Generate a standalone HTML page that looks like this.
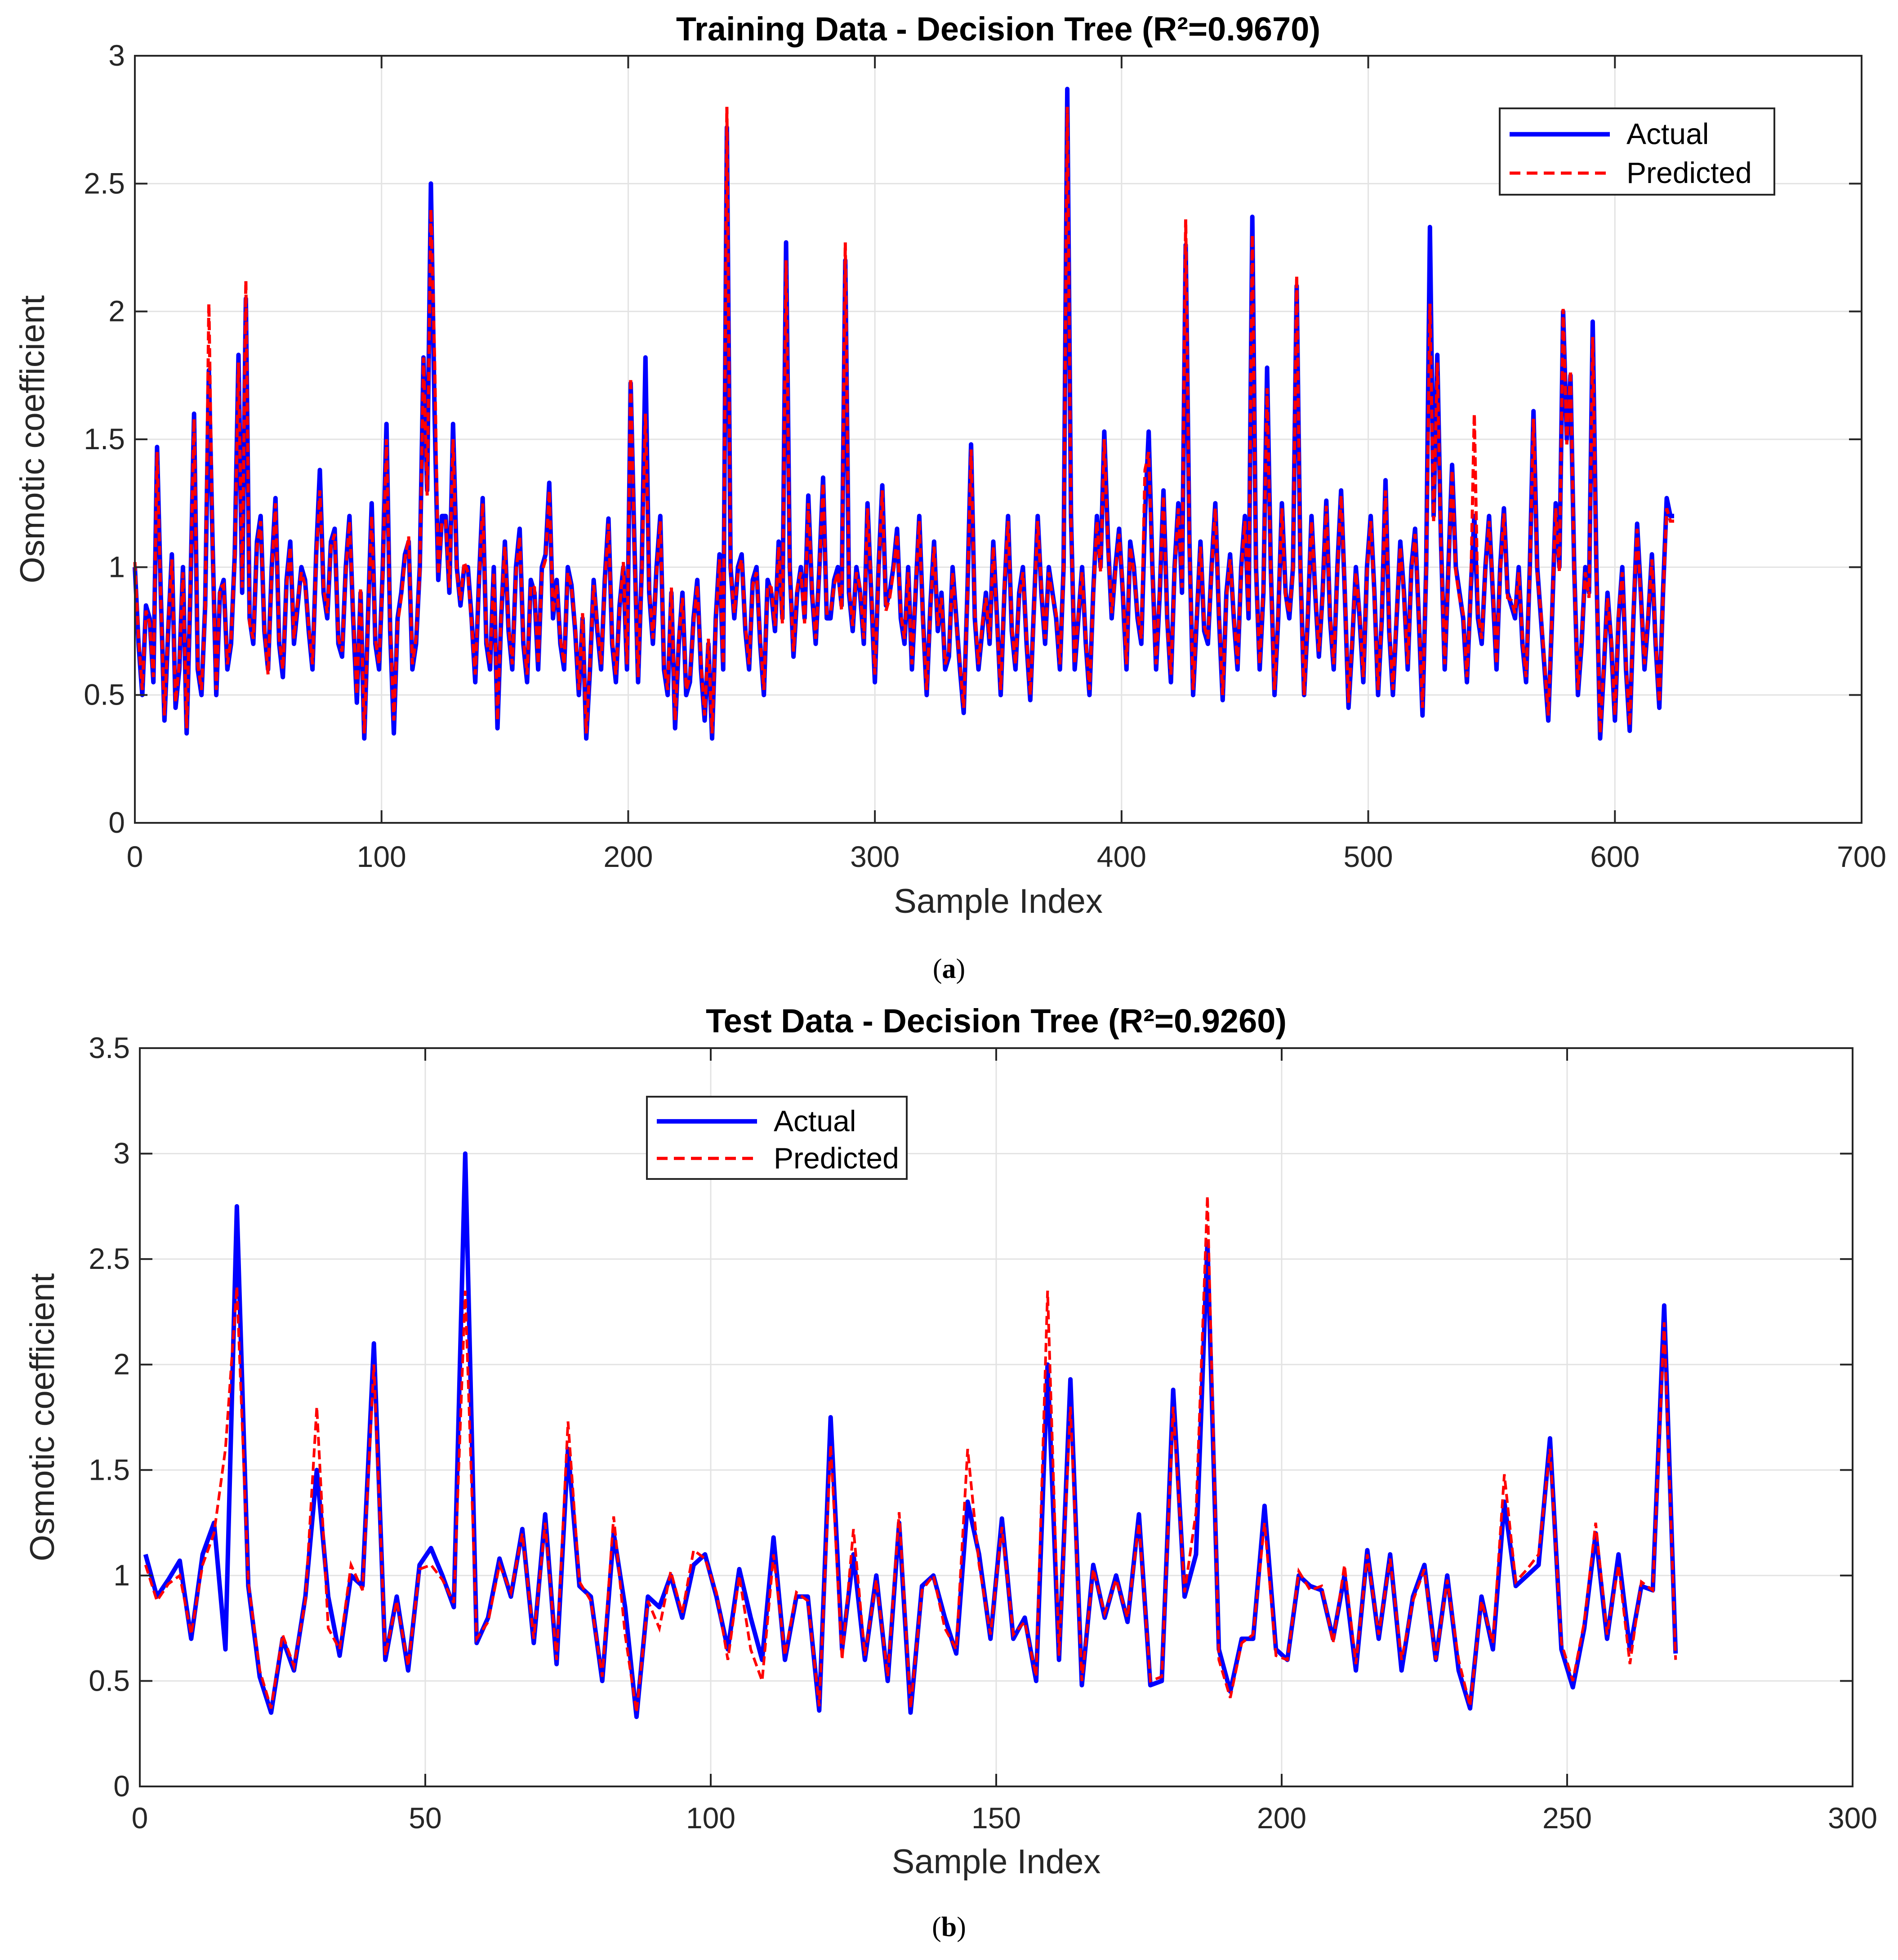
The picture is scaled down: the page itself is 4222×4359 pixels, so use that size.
<!DOCTYPE html>
<html><head><meta charset="utf-8"><style>
html,body{margin:0;padding:0;background:#fff;}
svg{display:block;}
</style></head><body>
<svg id="fig" width="4222" height="4359" viewBox="0 0 4222 4359" xmlns="http://www.w3.org/2000/svg" font-family="Liberation Sans, sans-serif">
<rect width="4222" height="4359" fill="#fff"/>
<g id="panelA"></g>
<g id="panelB"></g>
<text x="2111" y="2175" font-family="Liberation Serif, serif" font-size="62" text-anchor="middle">(<tspan font-weight="bold">a</tspan>)</text>
<text x="2111" y="4306" font-family="Liberation Serif, serif" font-size="62" text-anchor="middle">(<tspan font-weight="bold">b</tspan>)</text>
</svg>
<script>
// ---- Training data (main samples every 3 indices, mid samples in between) ----
const trainStep = 3;
const trainActual = [1.0,0.5,0.8,1.47,0.4,1.05,0.6,0.35,1.6,0.5,
1.77,0.5,0.95,0.7,1.83,2.05,0.7,1.2,0.6,1.27,
0.57,1.1,0.85,0.95,0.6,1.38,0.8,1.15,0.65,1.2,
0.47,0.33,1.25,0.6,1.56,0.35,0.9,1.1,0.7,1.82,
2.5,0.95,1.2,1.56,0.85,1.0,0.55,1.27,0.6,0.37,
1.1,0.6,1.15,0.55,0.9,1.0,1.33,0.95,0.6,0.93,
0.5,0.33,0.95,0.6,1.19,0.55,1.0,1.72,0.55,1.82,
0.7,1.2,0.5,0.37,0.9,0.55,0.95,0.4,0.33,1.05,
2.72,0.8,1.05,0.6,1.0,0.5,0.9,1.1,2.27,0.65,
1.0,1.28,0.7,1.35,0.8,1.0,2.2,0.75,0.9,1.25,
0.55,1.32,0.9,1.15,0.7,0.6,1.2,0.5,1.1,0.9,
0.65,0.8,0.43,1.48,0.6,0.9,1.1,0.5,1.2,0.6,
1.0,0.48,1.2,0.7,0.9,0.6,2.87,0.6,1.0,0.5,
1.2,1.53,0.8,1.15,0.6,1.0,0.7,1.53,0.6,1.3,
0.55,1.25,2.26,0.5,1.1,0.7,1.25,0.48,1.05,0.6,
1.2,2.37,0.6,1.78,0.5,1.25,0.8,2.1,0.5,1.2,
0.65,1.26,0.6,1.3,0.45,1.0,0.55,1.2,0.5,1.34,
0.5,1.1,0.6,1.15,0.42,2.33,1.83,0.6,1.4,0.9,
0.55,1.2,0.7,1.2,0.6,1.23,0.85,1.0,0.55,1.61,
0.8,0.4,1.25,2.0,1.75,0.5,1.0,1.96,0.33,0.9,
0.4,1.0,0.36,1.17,0.6,1.05,0.45,1.27,1.2];
const trainMid = [0.7,0.85,0.55,0.9,0.75,0.45,1.0,0.9,0.6,0.85,
1.1,0.9,0.6,1.05,0.9,0.8,1.1,0.75,1.0,0.7,
0.95,0.7,1.0,0.75,1.05,0.9,1.1,0.7,1.0,0.8,
0.9,0.8,0.7,1.0,0.75,0.8,1.05,0.6,1.0,1.3,
1.6,1.2,0.9,1.0,1.0,0.8,0.95,0.7,1.0,0.8,
0.75,1.0,0.7,0.95,0.6,1.05,0.8,0.7,1.0,0.75,
0.8,0.6,0.75,0.95,0.7,0.85,0.6,1.1,1.0,0.9,
1.0,0.6,0.9,0.7,0.5,0.8,0.6,0.7,0.8,0.6,
1.0,1.0,0.75,0.95,0.7,0.95,0.75,0.8,1.0,0.9,
0.8,0.9,1.0,0.8,0.95,0.85,0.9,1.0,0.7,0.9,
1.0,0.85,1.0,0.8,1.0,0.9,0.8,0.85,0.75,0.6,
1.0,0.6,0.9,0.8,0.75,0.7,0.8,0.9,0.75,0.9,
0.7,0.85,0.9,1.0,0.8,1.0,1.2,0.8,0.7,0.9,
1.0,1.1,1.0,0.9,1.1,0.8,1.2,1.0,0.9,0.8,
1.0,0.9,1.1,0.8,0.75,1.0,0.8,0.9,0.8,1.0,
0.8,1.0,0.9,1.0,0.8,0.9,1.0,1.0,0.8,0.9,
0.9,0.8,1.0,0.9,0.7,0.8,1.0,0.9,0.8,0.75,
0.8,0.9,1.0,0.8,1.0,1.2,1.1,1.0,1.0,0.8,
0.9,0.8,1.0,0.9,1.0,0.9,0.8,0.7,1.0,1.0,
0.6,0.8,1.0,1.5,1.0,0.7,0.9,1.0,0.6,0.7,
0.8,0.6,0.8,0.9,0.8,0.7,0.9,1.2,1.2];
const trainPred = [1.02,0.52,0.78,1.45,0.42,1.03,0.62,0.37,1.58,0.52,
2.03,0.52,0.93,0.72,1.8,2.12,0.72,1.18,0.58,1.25,
0.6,1.08,0.87,0.93,0.62,1.3,0.82,1.13,0.67,1.18,
0.5,0.35,1.2,0.62,1.5,0.4,0.88,1.12,0.72,1.82,
2.4,0.97,1.18,1.5,0.87,0.98,0.58,1.25,0.62,0.4,
1.08,0.62,1.12,0.58,0.92,0.98,1.3,0.93,0.62,0.92,
0.52,0.35,0.93,0.62,1.17,0.58,1.02,1.74,0.57,1.6,
0.72,1.18,0.52,0.4,0.88,0.57,0.93,0.42,0.35,1.03,
2.8,0.82,1.03,0.62,0.98,0.52,0.92,1.08,2.2,0.67,
0.98,1.25,0.72,1.33,0.82,0.98,2.27,0.77,0.92,1.23,
0.58,1.3,0.88,1.13,0.72,0.62,1.18,0.52,1.08,0.88,
0.67,0.78,0.45,1.46,0.62,0.88,1.08,0.52,1.18,0.62,
0.98,0.5,1.18,0.72,0.88,0.62,2.8,0.62,0.98,0.52,
1.18,1.5,0.82,1.13,0.62,0.98,0.72,1.45,0.62,1.28,
0.58,1.23,2.36,0.52,1.08,0.72,1.23,0.5,1.03,0.62,
1.18,2.3,0.62,1.7,0.52,1.23,0.82,2.14,0.5,1.18,
0.67,1.24,0.62,1.28,0.47,0.98,0.57,1.18,0.52,1.3,
0.52,1.08,0.62,1.13,0.45,2.03,1.8,0.62,1.38,0.88,
0.57,1.6,0.72,1.18,0.62,1.21,0.87,0.98,0.57,1.58,
0.82,0.42,1.23,2.01,1.77,0.52,0.98,1.9,0.35,0.88,
0.42,0.98,0.38,1.15,0.62,1.03,0.47,1.23,1.18];
const trainPredMid = [0.72,0.83,0.57,0.88,0.77,0.47,0.98,0.92,0.62,0.83,
1.08,0.92,0.62,1.03,0.92,0.78,1.08,0.77,0.98,0.72,
0.93,0.72,0.98,0.77,1.03,0.92,1.08,0.72,0.98,0.82,
0.92,0.78,0.72,0.98,0.77,0.78,1.03,0.62,0.98,1.28,
1.82,1.18,0.92,0.98,1.02,0.78,0.93,0.72,0.98,0.82,
0.77,0.98,0.72,0.93,0.62,1.03,0.82,0.72,0.98,0.77,
0.82,0.62,0.77,0.93,0.72,0.83,0.62,1.08,0.98,0.92,
0.98,0.62,0.92,0.72,0.52,0.78,0.62,0.72,0.78,0.62,
0.98,0.98,0.77,0.93,0.72,0.93,0.77,0.78,0.98,0.92,
0.78,0.92,0.98,0.82,0.93,0.83,0.92,0.98,0.72,0.92,
0.98,0.83,0.98,0.82,0.98,0.92,0.78,0.83,0.77,0.62,
0.98,0.62,0.88,0.82,0.77,0.72,0.78,0.92,0.77,0.88,
0.72,0.83,0.92,0.98,0.82,0.98,1.18,0.82,0.72,0.88,
0.98,1.08,0.98,0.92,1.08,0.82,1.38,0.98,0.92,0.78,
0.98,0.92,1.08,0.82,0.77,0.98,0.82,0.88,0.82,0.98,
0.82,0.98,0.92,0.98,0.82,0.88,0.98,0.98,0.82,0.92,
0.88,0.82,0.98,0.92,0.72,0.82,0.98,0.88,0.82,0.77,
0.82,0.88,0.98,0.82,0.98,1.18,1.08,0.98,0.98,0.82,
0.88,0.82,0.98,0.92,0.98,0.88,0.82,0.72,0.98,0.98,
0.62,0.82,0.98,1.48,0.98,0.72,0.88,0.98,0.62,0.72,
0.82,0.62,0.82,0.88,0.82,0.72,0.88,1.18,1.18];
const trainXTicks = [0,100,200,300,400,500,600,700];
const trainYTicks = [0,0.5,1,1.5,2,2.5,3];
const trainYLabels = ["0","0.5","1","1.5","2","2.5","3"];

// ---- Test data (sampled every 2 indices, starting at 1) ----
const testStep = 2;
const testActual = [1.1,0.9,0.98,1.07,0.7,1.1,1.25,0.65,2.75,0.95,
0.52,0.35,0.7,0.55,0.9,1.5,0.9,0.62,1.0,0.95,
2.1,0.6,0.9,0.55,1.05,1.13,1.0,0.85,3.0,0.68,
0.8,1.08,0.9,1.22,0.68,1.29,0.58,1.6,0.95,0.9,
0.5,1.2,0.85,0.33,0.9,0.85,1.0,0.8,1.05,1.1,
0.9,0.65,1.03,0.8,0.6,1.18,0.6,0.9,0.9,0.36,
1.75,0.65,1.1,0.6,1.0,0.5,1.25,0.35,0.95,1.0,
0.8,0.63,1.35,1.1,0.7,1.27,0.7,0.8,0.5,2.0,
0.6,1.93,0.48,1.05,0.8,1.0,0.78,1.29,0.48,0.5,
1.88,0.9,1.1,2.58,0.65,0.45,0.7,0.7,1.33,0.65,
0.6,1.0,0.95,0.93,0.7,1.0,0.55,1.12,0.7,1.1,
0.55,0.9,1.05,0.6,1.0,0.55,0.37,0.9,0.65,1.35,
0.95,1.0,1.05,1.65,0.65,0.47,0.75,1.2,0.7,1.1,
0.65,0.95,0.93,2.28,0.63];
const testPred = [1.05,0.88,0.96,1.0,0.72,1.05,1.2,1.6,2.37,0.97,
0.55,0.37,0.72,0.57,0.88,1.8,0.75,0.65,1.05,0.93,
2.0,0.62,0.88,0.57,1.03,1.05,0.98,0.87,2.35,0.7,
0.78,1.05,0.92,1.2,0.7,1.25,0.6,1.73,0.97,0.88,
0.52,1.28,0.72,0.35,0.88,0.75,1.02,0.82,1.12,1.08,
0.92,0.6,1.0,0.65,0.5,1.1,0.62,0.92,0.88,0.38,
1.62,0.6,1.22,0.62,0.98,0.52,1.3,0.37,0.93,1.0,
0.75,0.65,1.6,1.05,0.72,1.23,0.72,0.78,0.52,2.35,
0.62,1.8,0.5,1.03,0.82,0.98,0.8,1.25,0.5,0.52,
1.8,0.92,1.3,2.8,0.6,0.42,0.68,0.72,1.25,0.62,
0.6,1.02,0.93,0.95,0.68,1.05,0.58,1.1,0.72,1.08,
0.6,0.88,1.03,0.6,0.98,0.6,0.38,0.88,0.68,1.48,
0.97,1.03,1.1,1.6,0.68,0.5,0.78,1.25,0.72,1.05,
0.58,0.97,0.93,2.2,0.6];
const testXTicks = [0,50,100,150,200,250,300];
const testYTicks = [0,0.5,1,1.5,2,2.5,3,3.5];
const testYLabels = ["0","0.5","1","1.5","2","2.5","3","3.5"];

const NS = "http://www.w3.org/2000/svg";
function mk(parent, tag, attrs, text){
  const e = document.createElementNS(NS, tag);
  for (const k in attrs) e.setAttribute(k, attrs[k]);
  if (text !== undefined) e.textContent = text;
  parent.appendChild(e);
  return e;
}

// merge main samples with optional in-between samples into [index, value] pairs
function series(main, mid, step, start){
  const out = [];
  main.forEach((v,i)=>{
    out.push([start+i*step, v]);
    if (mid && i < mid.length && i < main.length-1) out.push([start+i*step+step/2, mid[i]]);
  });
  return out;
}

function panel(g, cfg){
  const {L,R,T,B,xmax,ymax,xTicks,yTicks,yLabels,actualPts,predPts,title,titleY,legend,tickY,xlabY,ylabX,bw,rw} = cfg;
  const xs = v => L + (v/xmax)*(R-L);
  const ys = v => B - (v/ymax)*(B-T);
  xTicks.forEach(t=>{
    const l = mk(g,'line',{x1:xs(t),x2:xs(t),y1:T,y2:B,stroke:'#e3e3e3','stroke-width':3});
    
    
  });
  yTicks.forEach(t=>{
    const l = mk(g,'line',{x1:L,x2:R,y1:ys(t),y2:ys(t),stroke:'#e3e3e3','stroke-width':3});
    
    
  });
  const ptsA = actualPts.map(p=>xs(p[0]).toFixed(1)+','+ys(p[1]).toFixed(1)).join(' ');
  const ptsP = predPts.map(p=>xs(p[0]).toFixed(1)+','+ys(p[1]).toFixed(1)).join(' ');
  const la = mk(g,'polyline',{points:ptsA,fill:'none',stroke:'#0000ff','stroke-width':bw,'stroke-linejoin':'round'});
  
  
  const lp = mk(g,'polyline',{points:ptsP,fill:'none',stroke:'#ff0000','stroke-width':rw,'stroke-dasharray':'20 10'});
  
  
  const box = mk(g,'rect',{x:L,y:T,width:R-L,height:B-T,fill:'none',stroke:'#262626','stroke-width':4});
  
  
  xTicks.forEach(t=>{
    mk(g,'line',{x1:xs(t),x2:xs(t),y1:B,y2:B-28,stroke:'#262626','stroke-width':4});
    mk(g,'line',{x1:xs(t),x2:xs(t),y1:T,y2:T+28,stroke:'#262626','stroke-width':4});
    const tx = mk(g,'text',{x:xs(t),y:tickY,'font-size':66,'text-anchor':'middle',fill:'#262626'},String(t));
    
    
  });
  yTicks.forEach((t,i)=>{
    mk(g,'line',{x1:L,x2:L+28,y1:ys(t),y2:ys(t),stroke:'#262626','stroke-width':4});
    mk(g,'line',{x1:R,x2:R-28,y1:ys(t),y2:ys(t),stroke:'#262626','stroke-width':4});
    const ty = mk(g,'text',{x:L-22,y:ys(t)+22,'font-size':66,'text-anchor':'end',fill:'#262626'},yLabels[i]);
    
    
  });
  const tt = mk(g,'text',{x:(L+R)/2,y:titleY,'font-size':74,'font-weight':'bold','text-anchor':'middle',fill:'#000'},title);
  
  
  const xl = mk(g,'text',{x:(L+R)/2,y:xlabY,'font-size':76,'text-anchor':'middle',fill:'#262626'},'Sample Index');
  
  
  const yc = (T+B)/2;
  const yl = mk(g,'text',{x:ylabX,y:yc,'font-size':76,'text-anchor':'middle',fill:'#262626',transform:`rotate(-90 ${ylabX} ${yc})`},'Osmotic coefficient');
  
  
  const lg = mk(g,'g',{});
  
  
  mk(lg,'rect',{x:legend.x,y:legend.y,width:legend.w,height:legend.h,fill:'#fff',stroke:'#262626','stroke-width':4});
  const r1 = legend.y+legend.h*0.3, r2 = legend.y+legend.h*0.75;
  const e1 = mk(lg,'g',{});
  
  
  mk(e1,'line',{x1:legend.x+22,x2:legend.x+245,y1:r1,y2:r1,stroke:'#0000ff','stroke-width':10});
  mk(e1,'text',{x:legend.x+282,y:r1+22,'font-size':66,fill:'#000'},'Actual');
  const e2 = mk(lg,'g',{});
  
  
  mk(e2,'line',{x1:legend.x+22,x2:legend.x+245,y1:r2,y2:r2,stroke:'#ff0000','stroke-width':7,'stroke-dasharray':'24 14'});
  mk(e2,'text',{x:legend.x+282,y:r2+22,'font-size':66,fill:'#000'},'Predicted');
}

panel(document.getElementById('panelA'),{
  L:300,R:4141,T:124,B:1830,xmax:700,ymax:3,xTicks:trainXTicks,yTicks:trainYTicks,yLabels:trainYLabels,
  actualPts:series(trainActual,trainMid,trainStep,0),predPts:series(trainPred,trainPredMid,trainStep,0),
  title:'Training Data - Decision Tree (R²=0.9670)',titleY:90,bw:10,rw:7,
  legend:{x:3336,y:241,w:611,h:192},tickY:1928,xlabY:2030,ylabX:98
});
panel(document.getElementById('panelB'),{
  L:311,R:4121,T:2331,B:3973,xmax:300,ymax:3.5,xTicks:testXTicks,yTicks:testYTicks,yLabels:testYLabels,
  actualPts:series(testActual,null,testStep,1),predPts:series(testPred,null,testStep,1),
  title:'Test Data - Decision Tree (R²=0.9260)',titleY:2296,bw:10,rw:6,
  legend:{x:1439,y:2439,w:578,h:183},tickY:4066,xlabY:4166,ylabX:120
});
</script>
</body></html>
